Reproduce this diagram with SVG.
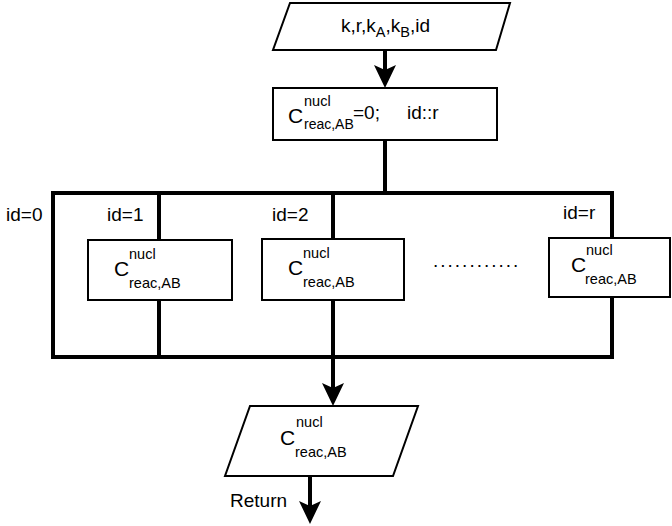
<svg xmlns="http://www.w3.org/2000/svg" width="672" height="526" viewBox="0 0 672 526">
<style>
text{font-family:"Liberation Sans",Arial,sans-serif;fill:#000}
.m{font-size:19px}
.c{font-size:21px}
.s{font-size:14.5px}
.box{fill:#fff;stroke:#000;stroke-width:2}
.thick{fill:none;stroke:#000;stroke-width:4}
.head{fill:#000;stroke:none}
</style>
<rect width="672" height="526" fill="#fff"/>
<g id="connectors">
<line class="thick" x1="385" y1="50" x2="385" y2="72"/>
<polygon class="head" points="374,65 385,70 396,65 385,88"/>
<line class="thick" x1="385" y1="140" x2="385" y2="193"/>
<rect class="thick" x="53" y="193" width="559" height="164"/>
<line class="thick" x1="159" y1="193" x2="159" y2="357"/>
<line class="thick" x1="333" y1="193" x2="333" y2="390"/>
<polygon class="head" points="322,383 333,388 344,383 333,406"/>
<line class="thick" x1="310" y1="476" x2="310" y2="508"/>
<polygon class="head" points="299,501 310,506 321,501 310,524"/>
</g>
<g id="input">
<polygon class="box" points="290,3 510,3 496,50 273,50"/>
<text class="m" x="341" y="32">k,r,k<tspan class="s" dy="5">A</tspan><tspan dy="-5">,k</tspan><tspan class="s" dy="5">B</tspan><tspan dy="-5">,id</tspan></text>
</g>
<g id="init">
<rect class="box" x="273" y="88" width="224" height="52"/>
<text class="c" x="288" y="123">C</text>
<text class="s" x="304" y="106">nucl</text>
<text class="s" style="font-size:14px" x="304" y="129">reac,AB</text>
<text class="m" x="353" y="119">=0;</text>
<text class="m" x="407" y="119">id::r</text>
</g>
<g id="labels">
<text class="m" x="6" y="221">id=0</text>
<text class="m" x="107" y="221">id=1</text>
<text class="m" x="272" y="221">id=2</text>
<text class="m" x="563" y="219">id=r</text>
<text class="m" x="433" y="267" style="letter-spacing:2px">............</text>
</g>
<g id="task1">
<rect class="box" x="88" y="240" width="144" height="60"/>
<text class="c" x="114" y="276">C</text>
<text class="s" x="129" y="259">nucl</text>
<text class="s" x="129" y="288">reac,AB</text>
</g>
<g id="task2">
<rect class="box" x="262" y="239" width="142" height="61"/>
<text class="c" x="288" y="275">C</text>
<text class="s" x="303" y="258">nucl</text>
<text class="s" x="303" y="287">reac,AB</text>
</g>
<g id="taskr">
<rect class="box" x="549" y="238" width="121" height="59"/>
<text class="c" x="571" y="272">C</text>
<text class="s" x="586" y="255">nucl</text>
<text class="s" x="585" y="284">reac,AB</text>
</g>
<g id="output">
<polygon class="box" points="250,406 418,406 393,476 225,476"/>
<text class="c" x="280" y="445">C</text>
<text class="s" x="296" y="427">nucl</text>
<text class="s" x="295" y="457">reac,AB</text>
</g>
<g id="return-label">
<text class="m" x="230" y="507">Return</text>
</g>
</svg>
